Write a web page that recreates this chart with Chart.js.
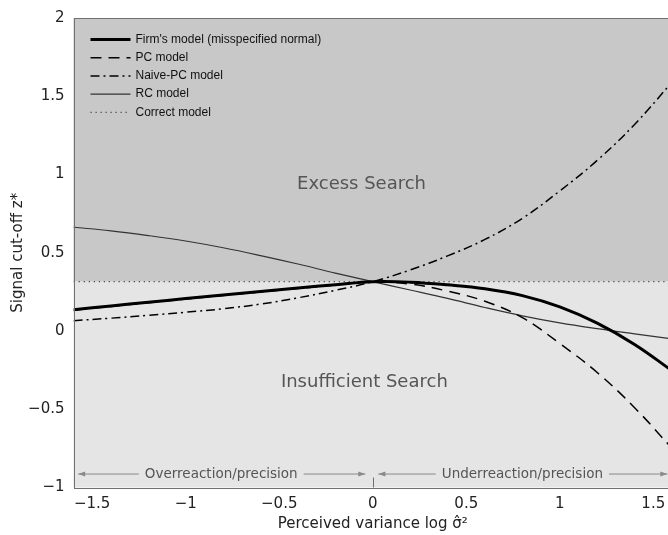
<!DOCTYPE html>
<html>
<head>
<meta charset="utf-8">
<script src="https://cdn.jsdelivr.net/npm/chart.js@4.4.0/dist/chart.umd.min.js"></script>
<style>
  html, body { margin: 0; padding: 0; background: #fff; overflow: hidden; }
  #wrap { position: relative; width: 680px; height: 535px; }
</style>
</head>
<body>
<div id="wrap"><canvas id="c"></canvas></div>
<script>
// Perceived variance (log sigma-hat squared)
const X = [-1.6, -1.4, -1.2, -1.0, -0.8, -0.6, -0.4, -0.2, 0, 0.2, 0.4, 0.6, 0.8, 1.0, 1.2, 1.4, 1.6];

// Signal cut-off z* for each model
const FIRM  = [0.136, 0.160, 0.184, 0.207, 0.230, 0.253, 0.275, 0.296, 0.315, 0.312, 0.295, 0.270, 0.226, 0.154, 0.050, -0.086, -0.254];
const PC    = [0.133, 0.157, 0.181, 0.204, 0.227, 0.250, 0.272, 0.294, 0.315, 0.300, 0.255, 0.190, 0.085, -0.080, -0.265, -0.490, -0.750];
const NAIVE = [0.066, 0.082, 0.100, 0.120, 0.142, 0.172, 0.212, 0.260, 0.315, 0.390, 0.480, 0.585, 0.720, 0.895, 1.090, 1.320, 1.590];
const RC    = [0.663, 0.640, 0.610, 0.575, 0.532, 0.482, 0.428, 0.370, 0.315, 0.262, 0.208, 0.150, 0.097, 0.052, 0.015, -0.018, -0.050];
const CORRECT_X = [-1.6, 1.6];
const CORRECT   = [0.315, 0.315];

const SERIES_LABELS = ["Firm's model (misspecified normal)", "PC model", "Naive-PC model", "RC model", "Correct model"];
const X_TICKS = [-1.5, -1, -0.5, 0, 0.5, 1, 1.5];
const Y_TICKS = [-1, -0.5, 0, 0.5, 1, 1.5, 2];
const REGION_LABELS = ["Excess Search", "Insufficient Search"];
const RANGE_LABELS = ["Overreaction/precision", "Underreaction/precision"];

const pts = (xs, ys) => xs.map((v, i) => ({ x: v, y: ys[i] }));
const fmt = v => String(v).replace('-', '\u2212');

function arrowHead(ctx, x, y, dir) {
  ctx.beginPath();
  ctx.moveTo(x, y);
  ctx.lineTo(x - dir * 7, y - 2.5);
  ctx.lineTo(x - dir * 7, y + 2.5);
  ctx.closePath();
  ctx.fill();
}

function drawRange(ctx, x0, x1, yy, text, cx) {
  const w = ctx.measureText(text).width;
  const gap = 6;
  ctx.beginPath();
  ctx.moveTo(x0, yy); ctx.lineTo(cx - w / 2 - gap, yy);
  ctx.moveTo(cx + w / 2 + gap, yy); ctx.lineTo(x1, yy);
  ctx.stroke();
  arrowHead(ctx, x0, yy, -1);
  arrowHead(ctx, x1, yy, 1);
  ctx.fillStyle = '#555';
  ctx.fillText(text, cx, yy);
  ctx.fillStyle = '#8a8a8a';
}

// shaded regions split at the correct cut-off, region names and range arrows
const backdrop = {
  id: 'backdrop',
  beforeDatasetsDraw(chart) {
    const { ctx, chartArea: a, scales: { x, y } } = chart;
    const yc = y.getPixelForValue(CORRECT[0]);
    ctx.save();
    ctx.fillStyle = '#c8c8c8';
    ctx.fillRect(a.left, a.top, a.right - a.left, yc - a.top);
    ctx.fillStyle = '#e5e5e5';
    ctx.fillRect(a.left, yc, a.right - a.left, a.bottom - yc);

    ctx.fillStyle = '#555';
    ctx.font = '18px "DejaVu Sans"';
    ctx.textAlign = 'center';
    ctx.textBaseline = 'middle';
    ctx.fillText(REGION_LABELS[0], x.getPixelForValue(-0.06), y.getPixelForValue(0.94));
    ctx.fillText(REGION_LABELS[1], x.getPixelForValue(-0.045), y.getPixelForValue(-0.33));

    ctx.font = '13.5px "DejaVu Sans"';
    ctx.strokeStyle = '#8a8a8a';
    ctx.fillStyle = '#8a8a8a';
    ctx.lineWidth = 1;
    const ya = y.getPixelForValue(-0.914);
    drawRange(ctx, x.getPixelForValue(-1.575), x.getPixelForValue(-0.04), ya, RANGE_LABELS[0], x.getPixelForValue(-0.81));
    drawRange(ctx, x.getPixelForValue(0.03), x.getPixelForValue(1.575), ya, RANGE_LABELS[1], x.getPixelForValue(0.80));
    ctx.restore();
  }
};

// axes box, zero marker and the in-plot legend
const frame = {
  id: 'frame',
  afterDatasetsDraw(chart) {
    const { ctx, chartArea: a, scales: { x, y } } = chart;
    ctx.save();
    ctx.strokeStyle = '#707070';
    ctx.lineWidth = 1;
    ctx.strokeRect(Math.round(a.left) + 0.5, Math.round(a.top) + 0.5, Math.round(a.right - a.left), Math.round(a.bottom - a.top));
    const x0 = Math.round(x.getPixelForValue(0)) + 0.5;
    ctx.beginPath();
    ctx.moveTo(x0, a.bottom);
    ctx.lineTo(x0, a.bottom - 10);
    ctx.stroke();

    ctx.font = '12px "Liberation Sans"';
    ctx.textAlign = 'left';
    ctx.textBaseline = 'middle';
    chart.data.datasets.forEach((ds, i) => {
      const yy = a.top + 21.5 + i * 18.2;
      ctx.save();
      ctx.strokeStyle = ds.borderColor;
      ctx.lineWidth = ds.borderWidth;
      ctx.setLineDash(ds.borderDash || []);
      ctx.beginPath();
      ctx.moveTo(a.left + 17, yy);
      ctx.lineTo(a.left + 57, yy);
      ctx.stroke();
      ctx.restore();
      ctx.fillStyle = '#111';
      ctx.fillText(ds.label, a.left + 62, yy);
    });
    ctx.restore();
  }
};

const common = { pointRadius: 0, fill: false, tension: 0.4 };

new Chart(document.getElementById('c'), {
  type: 'line',
  data: {
    datasets: [
      { ...common, label: SERIES_LABELS[0], data: pts(X, FIRM),  borderColor: '#000', borderWidth: 3 },
      { ...common, label: SERIES_LABELS[1], data: pts(X, PC),    borderColor: '#000', borderWidth: 1.5, borderDash: [11, 7] },
      { ...common, label: SERIES_LABELS[2], data: pts(X, NAIVE), borderColor: '#000', borderWidth: 1.5, borderDash: [9, 4, 2, 4] },
      { ...common, label: SERIES_LABELS[3], data: pts(X, RC),    borderColor: '#333', borderWidth: 1.2 },
      { ...common, label: SERIES_LABELS[4], data: pts(CORRECT_X, CORRECT), borderColor: '#444', borderWidth: 1.2, borderDash: [1.2, 3.8] }
    ]
  },
  options: {
    responsive: true,
    maintainAspectRatio: false,
    animation: false,
    layout: { padding: { top: 14, right: 8, left: 0, bottom: 0 } },
    plugins: { legend: { display: false }, tooltip: { enabled: false } },
    scales: {
      x: {
        type: 'linear', min: -1.6, max: 1.6,
        afterBuildTicks: s => { s.ticks = X_TICKS.map(v => ({ value: v })); },
        afterFit: s => { s.height = 47.5; },
        grid: { display: false, drawTicks: false },
        border: { display: false },
        ticks: { color: '#222', font: { family: 'DejaVu Sans', size: 15 }, padding: 8, maxRotation: 0, callback: v => fmt(v) },
        title: { display: true, text: 'Perceived variance log \u03C3\u0302\u00B2', color: '#222', font: { family: 'DejaVu Sans', size: 15 }, padding: { top: 0, bottom: 2 } }
      },
      y: {
        min: -1, max: 2,
        afterBuildTicks: s => { s.ticks = Y_TICKS.map(v => ({ value: v })); },
        afterFit: s => { s.width = 73.5; },
        grid: { display: false, drawTicks: false },
        border: { display: false },
        ticks: { color: '#222', font: { family: 'DejaVu Sans', size: 15 }, padding: 9, callback: v => fmt(v) },
        title: { display: true, text: 'Signal cut-off z*', color: '#222', font: { family: 'DejaVu Sans', size: 15 }, padding: { top: 9, bottom: 0 } }
      }
    }
  },
  plugins: [backdrop, frame]
});
</script>
</body>
</html>
